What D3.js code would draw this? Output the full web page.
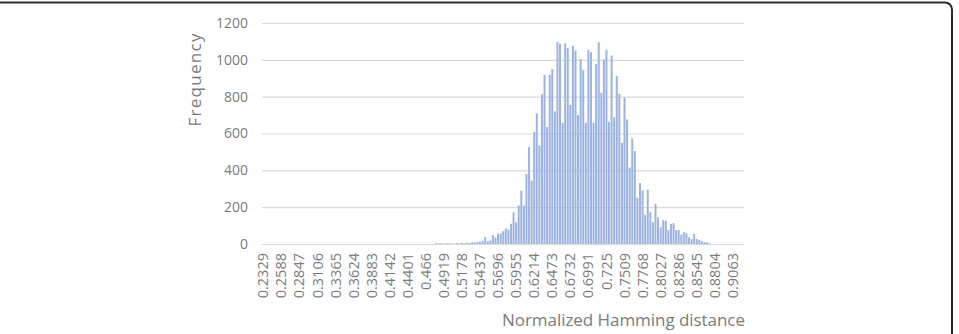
<!DOCTYPE html>
<html>
<head>
<meta charset="utf-8">
<script src="https://cdn.jsdelivr.net/npm/d3@7"></script>
<style>
  html, body { margin: 0; padding: 0; background: #fff; overflow: hidden; }
  svg { display: block; }
  text { font-family: "Open Sans", sans-serif; fill: #7b7b7b; }
</style>
</head>
<body>
<svg id="chart" width="959" height="334"></svg>
<script>
// frequency per bin (7 bins between two labels)
const counts = [
  0,0,0,0,0,0,0,0,0,0, 0,0,0,0,0,0,0,0,0,0,
  0,0,0,0,0,0,0,0,0,0, 0,0,0,0,0,0,0,0,0,0,
  0,0,0,0,0,0,0,0,0,0, 0,0,0,0,0,0,0,0,0,0,
  0,0,0,0,0,0,0,
  5,3,4,2,5,3,4,2,5,3,6,4,7,5,10,8,12,
  12,18,38,15,20,48,35,55,58,70,85,78,110,172,118,209,290,209,380,
  527,345,609,709,536,813,918,636,918,950,720,1097,1087,
  658,1091,1064,755,1076,1051,700,1004,945,658,1055,1042,658,978,1096,822,1000,1055,664,1024,687,913,815,
  549,796,676,415,573,505,251,331,291,158,295,173,118,218,145,91,131,127,76,109,
  113,76,76,51,64,58,36,27,55,27,22,15,9,9,4,
  0,0,0,0,0,0,0,0,0,0,0,0,0
]
const tickLabels = [
  "0.2329","0.2588","0.2847","0.3106","0.3365","0.3624","0.3883","0.4142","0.4401",
  "0.466","0.4919","0.5178","0.5437","0.5696","0.5955","0.6214","0.6473","0.6732",
  "0.6991","0.725","0.7509","0.7768","0.8027","0.8286","0.8545","0.8804","0.9063"
]
const yTicks = [0, 200, 400, 600, 800, 1000, 1200]
const binsPerLabel = 7
const xTitle = "Normalized Hamming distance"
const yTitle = "Frequency"

const svg = d3.select("#chart")

const dims = { left: 262, right: 744.5, top: 23, bottom: 244 }

// outer rounded frame (only top and right edges are visible)
svg.append("rect")
  .attr("x", -20).attr("y", 2.5)
  .attr("width", 972).attr("height", 400)
  .attr("rx", 7)
  .attr("fill", "none")
  .attr("stroke", "#2a2a2a")
  .attr("stroke-width", 2)

const xScale = d3.scaleBand()
  .domain(d3.range(counts.length))
  .range([dims.left, dims.right])
  .paddingInner(0.22)
  .paddingOuter(0.11)

const yScale = d3.scaleLinear()
  .domain([0, 1200])
  .range([dims.bottom, dims.top])

// gridlines + y labels
const yAxis = svg.append("g")
  .attr("transform", `translate(${dims.left},0)`)
  .call(d3.axisLeft(yScale)
    .tickValues(yTicks)
    .tickFormat(d3.format("d"))
    .tickSize(-(dims.right - dims.left))
    .tickPadding(14))
yAxis.select(".domain").remove()
yAxis.selectAll("line").attr("stroke", "#d9d9d9").attr("stroke-width", 1.2)
yAxis.selectAll("text")
  .style("font-size", "14px")
  .attr("fill", "#7b7b7b")

// bars
svg.append("g")
  .selectAll("rect")
  .data(counts)
  .join("rect")
  .attr("x", (d, i) => xScale(i))
  .attr("width", xScale.bandwidth())
  .attr("y", d => yScale(d))
  .attr("height", d => dims.bottom - yScale(d))
  .attr("fill", "#9db4e1")

// x labels, every 7th bin
const xAxis = svg.append("g")
  .attr("transform", `translate(0,${dims.bottom})`)
  .call(d3.axisBottom(xScale)
    .tickValues(d3.range(0, counts.length, binsPerLabel))
    .tickFormat(i => tickLabels[i / binsPerLabel])
    .tickSize(0))
xAxis.select(".domain").remove()
xAxis.selectAll("text")
  .attr("transform", "rotate(-90)")
  .attr("text-anchor", "end")
  .attr("x", -9)
  .attr("y", 0)
  .attr("dy", "0.35em")
  .style("font-size", "14.5px")
  .attr("fill", "#7b7b7b")

// axis titles
svg.append("text")
  .attr("transform", "translate(201,80) rotate(-90)")
  .attr("text-anchor", "middle")
  .attr("textLength", 93)
  .attr("lengthAdjust", "spacing")
  .style("font-size", "17px")
  .text(yTitle)

svg.append("text")
  .attr("x", 745)
  .attr("y", 326)
  .attr("text-anchor", "end")
  .attr("textLength", 243)
  .attr("lengthAdjust", "spacing")
  .style("font-size", "17px")
  .text(xTitle)
</script>
</body>
</html>
